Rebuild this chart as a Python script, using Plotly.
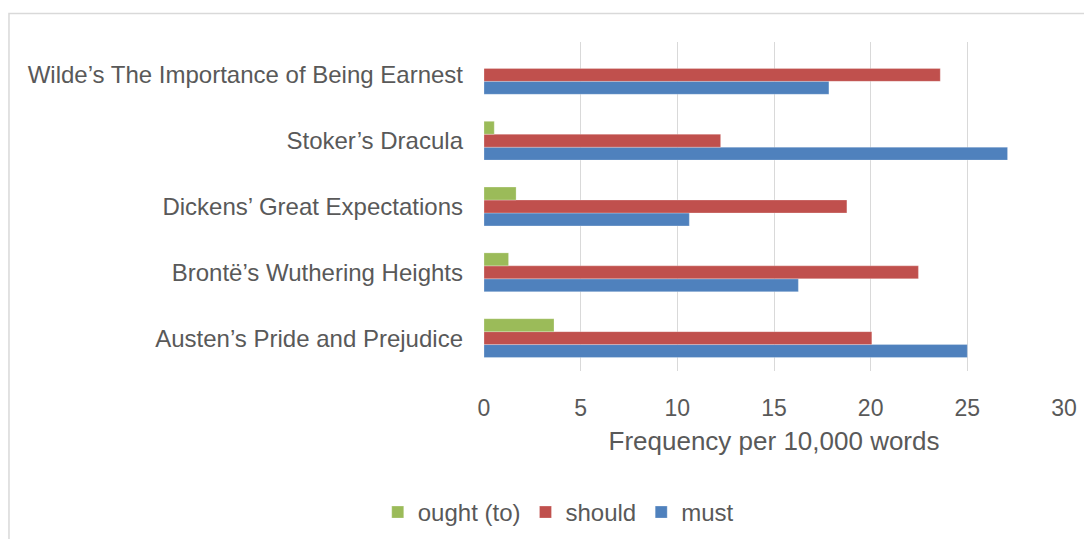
import plotly.graph_objects as go

categories = [
    "Austen’s Pride and Prejudice",
    "Brontë’s Wuthering Heights",
    "Dickens’ Great Expectations",
    "Stoker’s Dracula",
    "Wilde’s The Importance of Being Earnest",
]
must = [25.0, 16.26, 10.62, 27.08, 17.84]
should = [20.06, 22.47, 18.77, 12.24, 23.6]
ought = [3.62, 1.27, 1.66, 0.53, 0.0]
x_ticks = [0, 5, 10, 15, 20, 25, 30]

FONT = "Liberation Sans, Arial, sans-serif"
GREY = "#595959"

fig = go.Figure()
for name, vals, col in [("must", must, "#4F81BD"), ("should", should, "#C0504D"), ("ought (to)", ought, "#9BBB59")]:
    fig.add_trace(go.Bar(
        y=categories, x=vals, orientation="h", name=name,
        marker=dict(color=col, line=dict(color="rgba(255,255,255,0.5)", width=0.5)),
    ))

fig.update_layout(
    width=1092, height=539,
    margin=dict(l=476, r=36, t=34, b=172),
    paper_bgcolor="white", plot_bgcolor="white",
    barmode="group", bargap=0.41, bargroupgap=0,
    font=dict(family=FONT, color=GREY, size=24),
    showlegend=True,
    legend=dict(orientation="h", traceorder="reversed", x=0.128, y=-0.43,
                xanchor="center", yanchor="middle", font=dict(size=24, color=GREY),
                itemwidth=30, tracegroupgap=0),
    xaxis=dict(range=[0, 30], tickvals=x_ticks, showgrid=True, gridcolor="#D9D9D9",
               gridwidth=1, zeroline=False, showline=False, ticks="",
               tickfont=dict(size=23, color=GREY), ticklabelstandoff=21,
               title=dict(text="Frequency per 10,000 words", font=dict(size=26, color=GREY), standoff=11)),
    yaxis=dict(categoryorder="array", categoryarray=categories, showgrid=False,
               zeroline=False, showline=False, ticks="", ticklabelstandoff=20,
               tickfont=dict(size=24, color=GREY)),
    shapes=[dict(type="rect", xref="paper", yref="paper", x0=-0.819, x1=1.2, y0=-0.7, y1=1.087,
                 line=dict(color="#D9D9D9", width=1.5), fillcolor="rgba(0,0,0,0)", layer="below")],
)

fig.write_html("out.html")
